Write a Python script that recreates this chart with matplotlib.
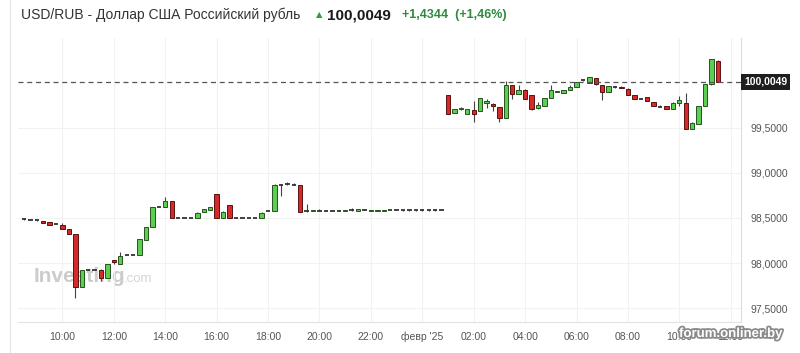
import matplotlib.pyplot as plt
import matplotlib.patheffects as pe

# 15-minute candles, USD/RUB, starting 31 Jan 08:30
start_hour = 8.5
opens = [98.485, 98.480, 98.478, 98.464, 98.453, 98.430, 98.423, 98.376, 98.324, 97.738,
         97.929, 97.930, 97.929, 97.837, 98.030, 97.990, 98.094, 98.090, 98.090, 98.260,
         98.400, 98.625, 98.620, 98.690, 98.497, 98.500, 98.497, 98.497, 98.570, 98.590,
         98.760, 98.497, 98.643, 98.497, 98.500, 98.500, 98.497, 98.497, 98.577, 98.577,
         98.870, 98.880, 98.870, 98.863, 98.572, 98.580, 98.582, 98.582, 98.582, 98.582,
         98.580, 98.585, 98.582, 98.585, 98.582, 98.582, 98.582, 98.587, 98.587, 98.584,
         98.584, 98.584, 98.585, 98.584, 98.585, 98.585,
         99.855, 99.665, 99.700, 99.654, 99.695, 99.680, 99.770, 99.764, 99.727, 99.607,
         99.965, 99.874, 99.920, 99.855, 99.720, 99.738, 99.826, 99.895, 99.885, 99.920,
         99.947, 100.020, 99.995, 100.050, 99.970, 99.895, 99.950, 99.950, 99.930, 99.855,
         99.820, 99.837, 99.782, 99.730, 99.738, 99.709, 99.768, 99.775, 99.489, 99.536,
         99.738, 99.976, 100.240]
highs = [98.500, 98.485, 98.480, 98.466, 98.455, 98.432, 98.440, 98.378, 98.326, 97.924,
         97.932, 97.932, 97.931, 97.992, 98.032, 98.120, 98.096, 98.092, 98.272, 98.402,
         98.622, 98.627, 98.730, 98.692, 98.499, 98.502, 98.499, 98.562, 98.598, 98.622,
         98.762, 98.572, 98.645, 98.499, 98.502, 98.502, 98.499, 98.562, 98.579, 98.872,
         98.872, 98.895, 98.885, 98.865, 98.660, 98.590, 98.595, 98.584, 98.584, 98.584,
         98.590, 98.615, 98.597, 98.600, 98.590, 98.590, 98.590, 98.592, 98.592, 98.586,
         98.586, 98.586, 98.598, 98.586, 98.597, 98.587,
         99.857, 99.702, 99.730, 99.702, 99.790, 99.828, 99.820, 99.766, 99.729, 100.020,
         99.967, 99.965, 99.922, 99.857, 99.780, 99.828, 99.965, 99.907, 99.920, 99.965,
         100.004, 100.024, 100.059, 100.052, 99.972, 99.960, 99.958, 99.960, 99.932, 99.857,
         99.822, 99.839, 99.784, 99.745, 99.740, 99.777, 99.850, 99.877, 99.557, 99.740,
         99.978, 100.260, 100.242]
lows = [98.480, 98.476, 98.462, 98.440, 98.424, 98.428, 98.374, 98.322, 97.610, 97.736,
        97.927, 97.928, 97.800, 97.835, 97.995, 97.988, 98.092, 98.088, 98.088, 98.258,
        98.398, 98.623, 98.618, 98.495, 98.495, 98.498, 98.495, 98.495, 98.568, 98.588,
        98.495, 98.495, 98.495, 98.495, 98.498, 98.498, 98.495, 98.495, 98.575, 98.575,
        98.745, 98.870, 98.868, 98.567, 98.570, 98.578, 98.572, 98.580, 98.580, 98.580,
        98.578, 98.580, 98.580, 98.583, 98.580, 98.580, 98.580, 98.585, 98.585, 98.582,
        98.582, 98.582, 98.575, 98.582, 98.578, 98.583,
        99.652, 99.663, 99.698, 99.652, 99.560, 99.678, 99.720, 99.680, 99.560, 99.605,
        99.820, 99.872, 99.818, 99.698, 99.710, 99.736, 99.824, 99.893, 99.883, 99.918,
        99.945, 100.018, 99.993, 99.974, 99.810, 99.893, 99.942, 99.933, 99.858, 99.818,
        99.818, 99.791, 99.736, 99.728, 99.707, 99.707, 99.740, 99.487, 99.487, 99.534,
        99.736, 99.974, 100.003]
closes = [98.487, 98.480, 98.478, 98.442, 98.426, 98.430, 98.376, 98.324, 97.738, 97.921,
          97.929, 97.930, 97.837, 97.990, 98.010, 98.080, 98.094, 98.090, 98.270, 98.400,
          98.620, 98.625, 98.690, 98.497, 98.497, 98.500, 98.497, 98.560, 98.596, 98.620,
          98.497, 98.570, 98.497, 98.497, 98.500, 98.500, 98.497, 98.560, 98.577, 98.870,
          98.870, 98.880, 98.870, 98.569, 98.575, 98.588, 98.582, 98.582, 98.582, 98.582,
          98.588, 98.585, 98.595, 98.585, 98.588, 98.588, 98.588, 98.587, 98.587, 98.584,
          98.584, 98.584, 98.585, 98.584, 98.585, 98.585,
          99.654, 99.700, 99.720, 99.700, 99.650, 99.826, 99.790, 99.738, 99.607, 99.972,
          99.874, 99.920, 99.820, 99.700, 99.753, 99.826, 99.920, 99.905, 99.918, 99.947,
          100.002, 100.022, 100.057, 99.976, 99.890, 99.958, 99.950, 99.935, 99.860, 99.820,
          99.820, 99.793, 99.738, 99.730, 99.709, 99.775, 99.805, 99.489, 99.555, 99.738,
          99.976, 100.258, 100.0049]

last_price = 100.0049
tick_hours = [10, 12, 14, 16, 18, 20, 22, 24, 26, 28, 30, 32, 34, 36]
tick_labels = ['10:00', '12:00', '14:00', '16:00', '18:00', '20:00', '22:00',
               "февр '25", '02:00', '04:00', '06:00', '08:00', '10:00', '12:00']
y_ticks = [97.5, 98.0, 98.5, 99.0, 99.5]

plt.rcParams['font.family'] = ['Liberation Sans', 'DejaVu Sans']

fig = plt.figure(figsize=(8, 3.53), dpi=100)
ax = fig.add_axes([18 / 800, 1 - 322 / 353, 723 / 800, 284 / 353])

green, green_edge = '#5ccf52', '#24551f'
red, red_edge = '#d42a2a', '#5c1010'
w = 0.17

for i in range(len(opens)):
    t = start_hour + 0.25 * i
    o, h, l, c = opens[i], highs[i], lows[i], closes[i]
    ax.vlines(t, l, h, color='#444444', lw=0.8, zorder=2)
    if abs(c - o) < 0.004:
        ax.hlines((o + c) / 2, t - w / 2, t + w / 2, color='#333333', lw=1.3, zorder=3)
    elif c > o:
        ax.bar(t, c - o, w, bottom=o, color=green, edgecolor=green_edge, lw=0.7, zorder=3)
    else:
        ax.bar(t, o - c, w, bottom=c, color=red, edgecolor=red_edge, lw=0.7, zorder=3)

ax.set_xlim(8.27, 36.4)
ax.set_ylim(97.35, 100.49)

ax.axhline(last_price, color='#555555', lw=0.9, dashes=(4, 3), zorder=4)

ax.set_xticks(tick_hours)
ax.set_xticklabels(tick_labels)
ax.set_yticks(y_ticks)
ax.set_yticklabels([f'{v:.4f}'.replace('.', ',') for v in y_ticks])
ax.yaxis.tick_right()
ax.tick_params(axis='both', length=0, labelsize=7.5, colors='#555555')
ax.tick_params(axis='x', pad=7)
ax.tick_params(axis='y', pad=7)
ax.grid(True, color='#f2f2f2', lw=0.8, zorder=0)
for s in ['top', 'left']:
    ax.spines[s].set_visible(False)
ax.spines['right'].set_color('#dddddd')
ax.spines['bottom'].set_color('#e2e2e2')

# watermark
ax.text(0.021, 0.14, 'Investing', transform=ax.transAxes, fontsize=15,
        fontweight='bold', color='#cccccc', zorder=1)
ax.text(0.146, 0.14, '.com', transform=ax.transAxes, fontsize=9.5,
        color='#d4d4d4', zorder=1)

# last price label
fig.text(744 / 800, 1 - 82 / 353, '100,0049', fontsize=7.5, fontweight='bold',
         color='white', va='center', ha='left',
         bbox=dict(facecolor='#1e1e1e', edgecolor='none', pad=2.2))

# header
fig.text(21 / 800, 1 - 15 / 353, 'USD/RUB - Доллар США Российский рубль',
         fontsize=10, color='#333333', va='center')
fig.text(316 / 800, 1 - 15 / 353, '▲', family='DejaVu Sans', fontsize=6,
         color='#2e9e3e', va='center')
fig.text(327 / 800, 1 - 15 / 353, '100,0049', fontsize=11, fontweight='bold',
         color='#1a1a1a', va='center')
fig.text(402 / 800, 1 - 15 / 353, '+1,4344  (+1,46%)', fontsize=9,
         fontweight='bold', color='#2e8b3e', va='center')

fig.add_artist(plt.Line2D([10 / 800, 10 / 800], [0, 1], color='#e6e6e6', lw=0.8))

fig.text(731 / 800, 1 - 334 / 353, 'forum.onliner.by', fontsize=9.5,
         fontweight='bold', color='white', ha='center', va='center',
         path_effects=[pe.withStroke(linewidth=2.5, foreground='#8a8a8a')])

fig.savefig('out.png', dpi=100, facecolor='white')
